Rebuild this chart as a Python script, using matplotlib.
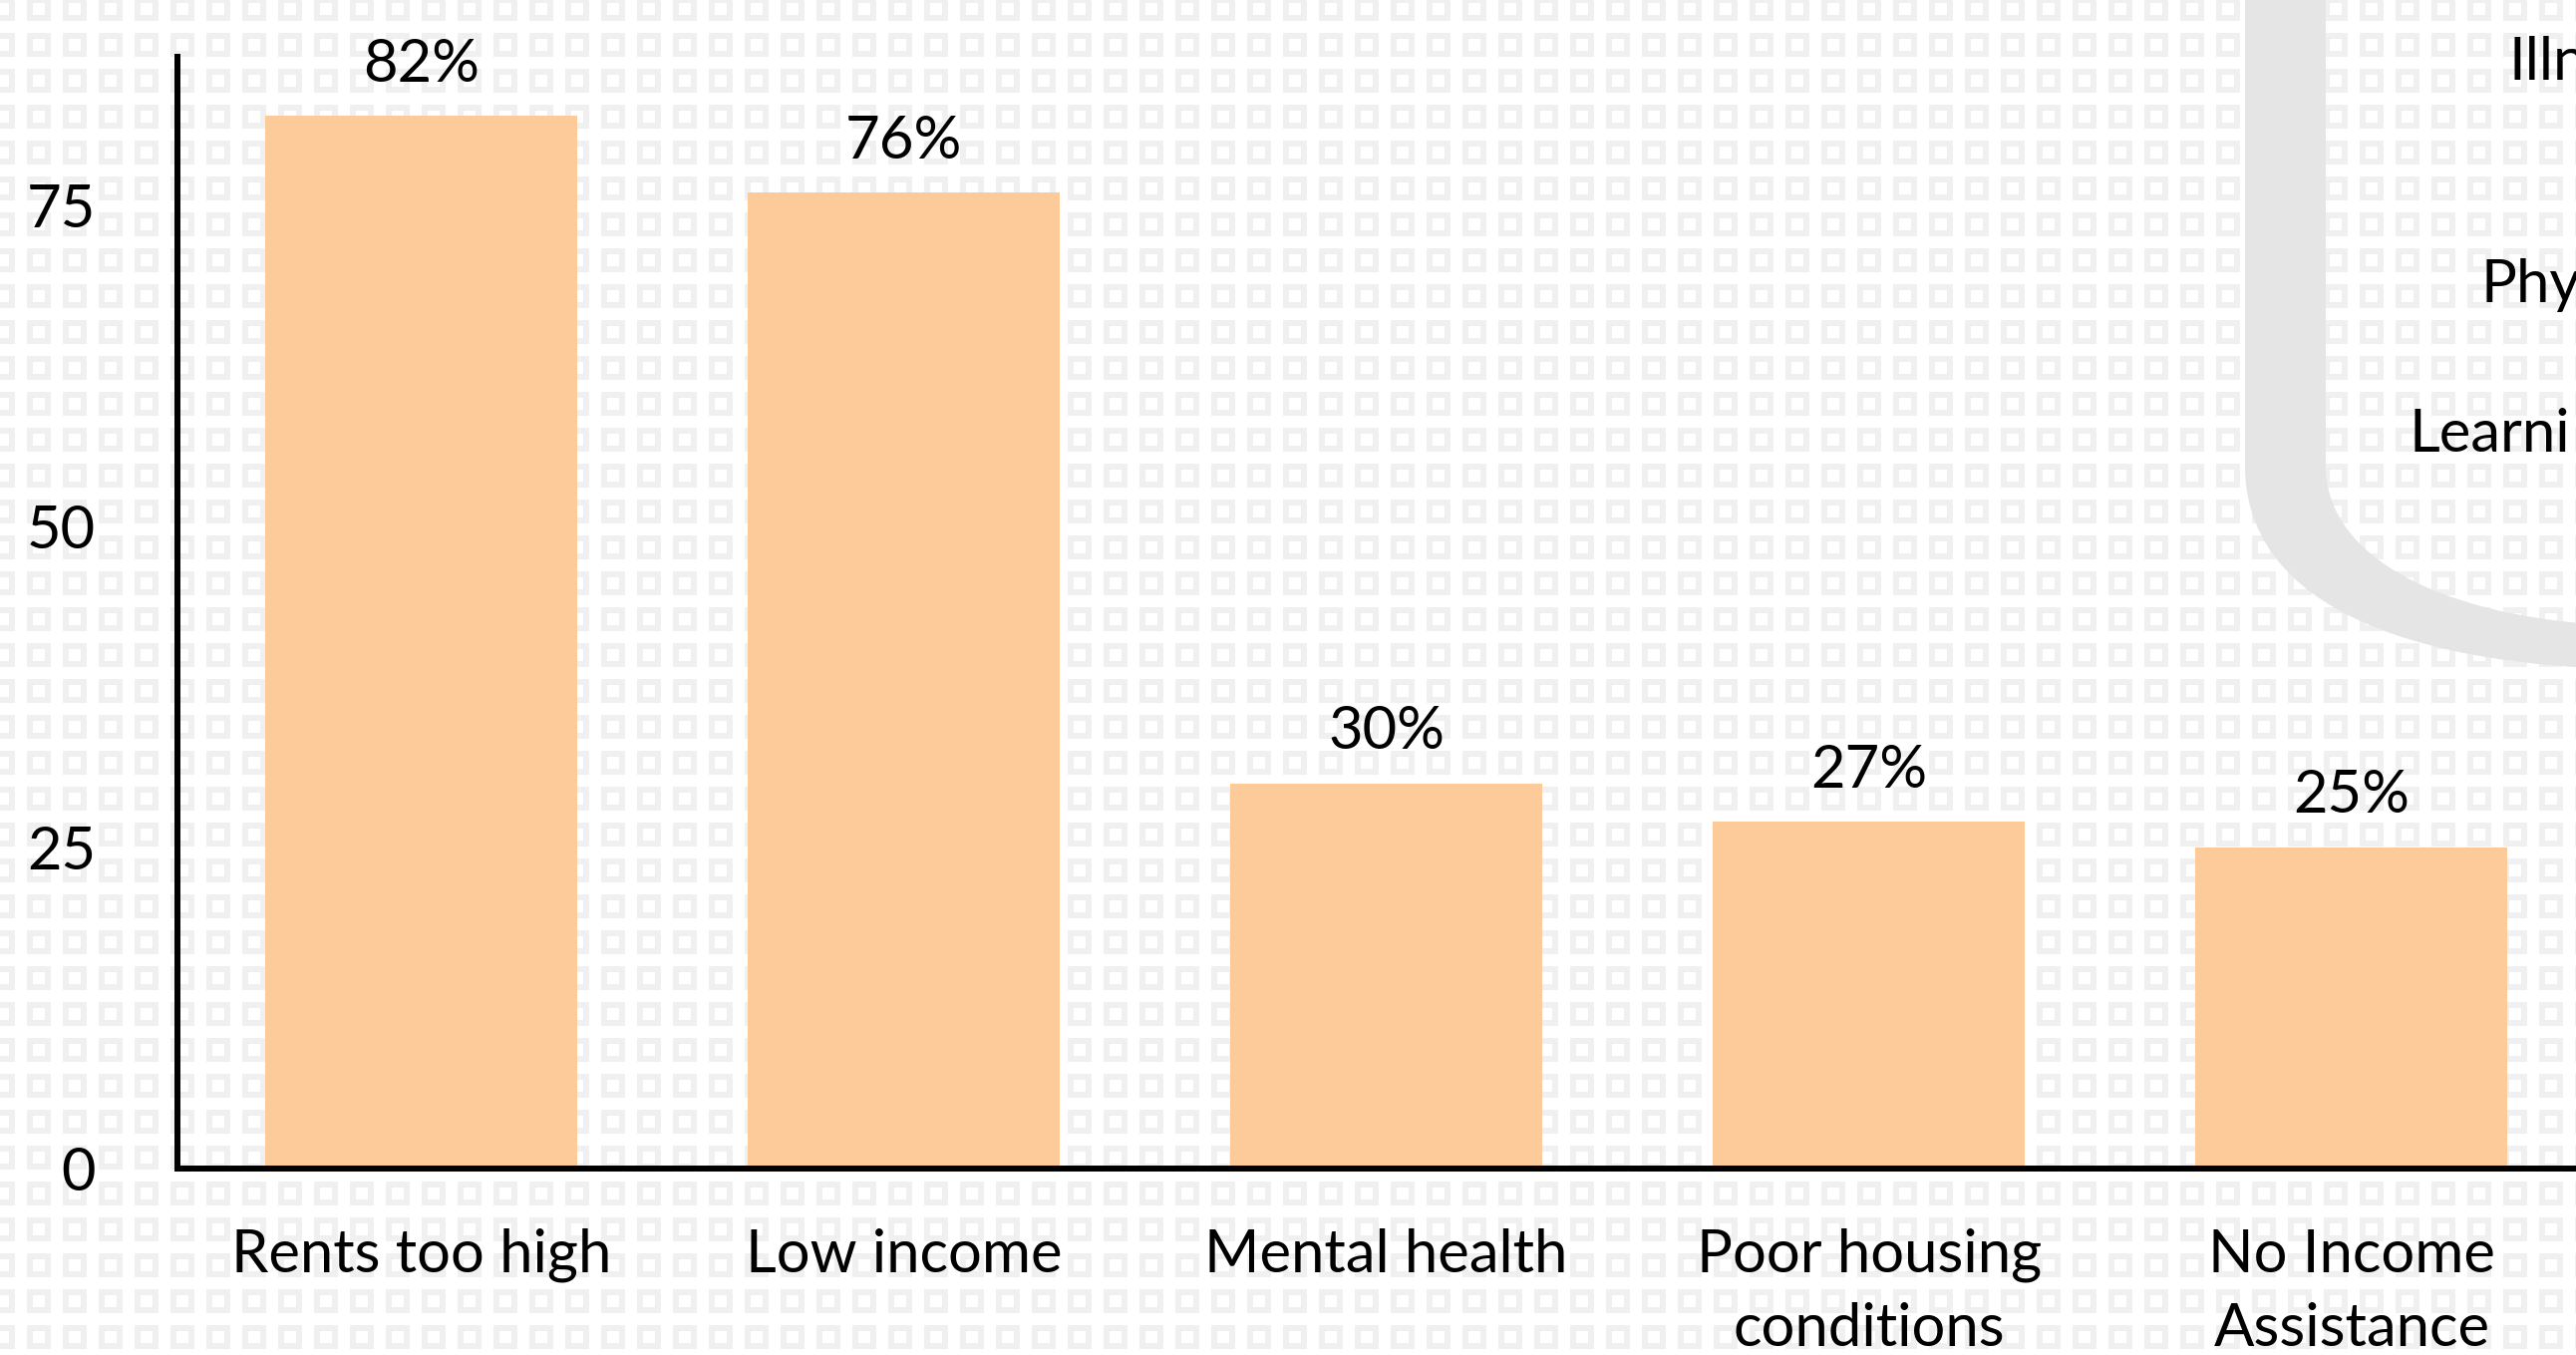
import numpy as np
import matplotlib
matplotlib.use("Agg")
import matplotlib.pyplot as plt
from matplotlib.path import Path
from matplotlib.patches import PathPatch

plt.rcParams['font.family'] = ['Lato', 'DejaVu Sans']

# data
categories = ['Rents too high', 'Low income', 'Mental health',
              'Poor housing\nconditions', 'No Income\nAssistance']
values = [82, 76, 30, 27, 25]
yticks = [0, 25, 50, 75]
side_labels = ['Illn', 'Phy', 'Learni']

W, H = 2584, 1359
DPI = 100
bar_color = '#FDCB99'

fig = plt.figure(figsize=(W / DPI, H / DPI), dpi=DPI)

# background with the light square pattern, in pixel coords
bg = fig.add_axes([0, 0, 1, 1], zorder=0)
bg.set_xlim(0, W)
bg.set_ylim(H, 0)
bg.axis('off')

yy, xx = np.mgrid[0:H, 0:W]
u = (xx - 27) % 36
v = (yy - 33) % 36
ring = (u < 24) & (v < 24) & ~((u >= 6) & (u < 18) & (v >= 6) & (v < 18))
img = np.where(ring, 0.94, 1.0)
bg.imshow(img, cmap='gray', vmin=0, vmax=1, extent=(0, W, H, 0),
          interpolation='nearest', aspect='auto')

# grey curved band at the right
verts = [(2252, -10), (2252, 467),
         (2252, 600), (2400, 660), (2600, 670),
         (2600, 626),
         (2450, 615), (2333, 560), (2333, 467),
         (2333, -10), (2252, -10)]
codes = [Path.MOVETO, Path.LINETO,
         Path.CURVE4, Path.CURVE4, Path.CURVE4,
         Path.LINETO,
         Path.CURVE4, Path.CURVE4, Path.CURVE4,
         Path.LINETO, Path.CLOSEPOLY]
bg.add_patch(PathPatch(Path(verts, codes), facecolor='#e5e5e5',
                       edgecolor='none'))

# labels of the neighbouring panel, cut by the right edge in the source
for (x, y), s in zip([(2516, 80), (2488, 303), (2416, 453)], side_labels):
    bg.text(x, y, s, fontsize=43, color='black', ha='left', va='baseline')

# main bar chart
ax = fig.add_axes([178 / W, 187 / H, 1 - 178 / W, 1115 / H], zorder=1)
ax.patch.set_alpha(0)

x = np.arange(len(categories))
bars = ax.bar(x, values, width=0.647, color=bar_color, zorder=2)
for b, val in zip(bars, values):
    ax.annotate(f'{val}%', (b.get_x() + b.get_width() / 2, val),
                xytext=(0, 25), textcoords='offset points',
                ha='center', va='baseline', fontsize=43)

ax.set_xlim(-0.505, 4.465)
ax.set_ylim(0, 86.6)
ax.set_xticks(x)
ax.set_xticklabels(categories, fontsize=43, linespacing=1.45)
ax.set_yticks(yticks)
ax.set_yticklabels([str(t) for t in yticks], fontsize=43)
ax.tick_params(axis='x', length=0, pad=43)
ax.tick_params(axis='y', length=0, pad=59)

for side in ['top', 'right']:
    ax.spines[side].set_visible(False)
for side in ['left', 'bottom']:
    ax.spines[side].set_linewidth(4.3)
    ax.spines[side].set_color('black')

fig.savefig('out.png', dpi=DPI)
